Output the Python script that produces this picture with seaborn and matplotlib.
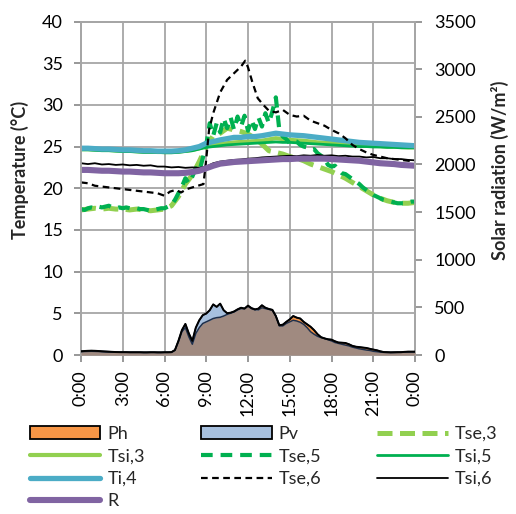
import numpy as np
import pandas as pd
import matplotlib
matplotlib.use("Agg")
import matplotlib.pyplot as plt
import seaborn as sns
from matplotlib.patches import Patch
from matplotlib.lines import Line2D

sns.set_theme(style="white")
plt.rcParams['font.family'] = ['Lato', 'DejaVu Sans']

# ---------------------------------------------------------------- data
# time axes (hours of the day)
hours_half = np.arange(0, 24.01, 0.5)      # half-hourly samples
hours_quarter = np.arange(0, 24.01, 0.25)  # quarter-hourly samples

# solar radiation on the horizontal (Ph) and vertical (Pv) planes, W/m2
ph = [39, 42, 44, 45, 44, 42, 39, 37, 35, 33, 31, 30,
      30, 30, 29, 29, 29, 29, 28, 28, 29, 29, 28, 28,
      29, 29, 30, 52, 139, 244, 287, 191, 113, 226, 287, 331,
      348, 365, 383, 392, 396, 409, 426, 439, 452, 474, 487, 487,
      513, 487, 474, 487, 522, 496, 483, 474, 409, 313, 318, 348,
      374, 409, 392, 383, 348, 322, 296, 261, 218, 187, 174, 165,
      161, 144, 131, 129, 126, 113, 96, 87, 83, 78, 74, 65,
      57, 50, 39, 31, 30, 28, 29, 30, 30, 33, 35, 35,
      35]
pv = [35, 37, 38, 39, 38, 37, 35, 33, 31, 30, 30, 29,
      28, 28, 27, 27, 27, 27, 26, 26, 27, 27, 26, 26,
      27, 27, 28, 50, 148, 261, 326, 226, 148, 287, 365, 418,
      435, 470, 531, 505, 539, 470, 439, 444, 457, 479, 496, 487,
      518, 492, 479, 474, 496, 487, 479, 470, 409, 305, 305, 331,
      348, 365, 357, 344, 322, 287, 244, 218, 196, 183, 174, 161,
      148, 131, 122, 113, 104, 96, 83, 74, 65, 59, 52, 48,
      39, 35, 30, 28, 26, 26, 26, 27, 28, 30, 31, 32,
      32]

# surface and air temperatures, degC (half-hourly)
tse3 = [17.4, 17.5, 17.6, 17.5, 17.6, 17.5, 17.5, 17.4, 17.5, 17.4, 17.3, 17.4,
        17.5, 17.9, 19.0, 20.5, 21.6, 23.2, 25.0, 26.3, 26.6, 27.2, 27.0, 26.8,
        26.5, 26.0, 25.3, 24.5, 24.3, 24.1, 23.8, 23.6, 23.3, 22.9, 22.6, 22.3,
        22.0, 21.6, 21.2, 20.7, 20.2, 19.7, 19.2, 18.8, 18.5, 18.3, 18.2, 18.2,
        18.3]
tsi3 = [24.7, 24.7, 24.65, 24.6, 24.6, 24.55, 24.5, 24.5, 24.45, 24.4, 24.4, 24.35,
        24.35, 24.35, 24.4, 24.5, 24.6, 24.8, 25.1, 25.2, 25.3, 25.4, 25.5, 25.55,
        25.6, 25.65, 25.7, 25.85, 26.0, 25.9, 25.8, 25.75, 25.7, 25.6, 25.5, 25.45,
        25.4, 25.35, 25.3, 25.25, 25.2, 25.15, 25.1, 25.05, 25.0, 25.0, 24.95, 24.9,
        24.9]
tsi5 = [24.6, 24.6, 24.55, 24.5, 24.5, 24.45, 24.4, 24.4, 24.35, 24.3, 24.3, 24.3,
        24.25, 24.25, 24.3, 24.4, 24.5, 24.7, 24.9, 25.0, 25.1, 25.2, 25.25, 25.3,
        25.35, 25.4, 25.45, 25.5, 25.55, 25.5, 25.5, 25.45, 25.4, 25.35, 25.3, 25.25,
        25.2, 25.15, 25.1, 25.05, 25.0, 25.0, 24.95, 24.95, 24.9, 24.9, 24.85, 24.85,
        24.85]
ti4 = [24.8, 24.8, 24.75, 24.7, 24.7, 24.65, 24.6, 24.6, 24.55, 24.5, 24.5, 24.45,
       24.45, 24.45, 24.5, 24.6, 24.8, 25.0, 25.4, 25.6, 25.8, 25.95, 26.1, 26.1,
       26.2, 26.2, 26.3, 26.45, 26.6, 26.5, 26.4, 26.35, 26.3, 26.2, 26.1, 26.0,
       25.9, 25.8, 25.7, 25.6, 25.5, 25.45, 25.4, 25.35, 25.3, 25.25, 25.2, 25.15,
       25.1]
tsi6 = [23.0, 22.9, 23.0, 22.85, 22.9, 22.8, 22.85, 22.75, 22.8, 22.7, 22.75, 22.6,
        22.6, 22.5, 22.55, 22.45, 22.5, 22.45, 22.6, 23.0, 23.2, 23.3, 23.4, 23.45,
        23.55, 23.6, 23.7, 23.75, 23.8, 23.85, 23.9, 23.85, 23.95, 23.9, 24.0, 23.9,
        23.95, 23.85, 23.9, 23.8, 23.8, 23.7, 23.75, 23.6, 23.6, 23.5, 23.5, 23.4,
        23.35]
r_air = [22.2, 22.2, 22.15, 22.1, 22.1, 22.05, 22.0, 22.0, 21.95, 21.9, 21.9, 21.85,
         21.8, 21.8, 21.8, 21.85, 21.95, 22.1, 22.4, 22.7, 22.95, 23.05, 23.15, 23.2,
         23.25, 23.3, 23.35, 23.4, 23.45, 23.5, 23.5, 23.55, 23.55, 23.55, 23.55, 23.55,
         23.5, 23.45, 23.4, 23.35, 23.3, 23.2, 23.1, 23.0, 22.95, 22.9, 22.8, 22.75,
         22.7]

# quarter-hourly external surface temperature, wall 5
tse5 = [17.5, 17.4, 17.6, 17.7, 17.6, 17.8, 17.7, 17.8, 17.9, 17.7, 17.6, 17.7,
        17.6, 17.7, 17.6, 17.5, 17.6, 17.5, 17.5, 17.4, 17.3, 17.4, 17.5, 17.6,
        17.6, 17.8, 18.0, 18.6, 19.4, 20.2, 21.2, 20.6, 21.4, 22.4, 22.0, 23.6,
        25.2, 27.8, 26.3, 27.8, 26.7, 28.4, 27.2, 28.5, 27.0, 28.6, 27.4, 28.7,
        26.9, 28.2, 27.1, 28.5, 27.4, 29.0, 27.8, 29.2, 30.9, 27.0, 26.2, 25.9,
        25.4, 25.7, 25.6, 25.2, 25.0, 24.9, 24.6, 24.7, 24.2, 23.9, 23.5, 22.8,
        22.6, 22.7, 22.2, 21.8, 21.7, 21.4, 21.1, 20.8, 20.5, 20.1, 19.8, 19.5,
        19.2, 19.0, 18.8, 18.6, 18.5, 18.4, 18.3, 18.2, 18.2, 18.2, 18.3, 18.4,
        18.4]

# external surface temperature, wall 6 (irregular sampling)
hours_tse6 = [0, 0.5, 1, 2, 3, 4, 5, 5.5, 6, 6.4, 6.8, 7.2, 7.6, 8.2, 8.8, 9.0,
              9.2, 9.5, 10.0, 10.5, 11.0, 11.5, 11.8, 12.0, 12.3, 12.7, 13.1, 13.5,
              14.0, 14.5, 15.0, 15.5, 16.0, 16.5, 17.0, 17.5, 18.0, 18.5, 19.0, 19.5,
              20.0, 20.5, 21.0, 21.5, 22.0, 23.0, 24.0]
tse6 = [20.7, 20.6, 20.3, 20.1, 19.9, 19.7, 19.5, 19.4, 19.1, 19.6, 19.8, 19.5,
        19.9, 20.2, 20.5, 23.5, 27.0, 29.0, 31.5, 33.0, 33.8, 34.6, 35.3, 34.5,
        32.8, 30.8, 30.0, 29.3, 29.1, 29.4, 28.8, 28.6, 28.7, 28.1, 27.8, 27.5,
        27.0, 26.6, 26.0, 25.2, 24.7, 24.3, 24.0, 23.8, 23.6, 23.4, 23.2]

tick_hours = [0, 3, 6, 9, 12, 15, 18, 21, 24]
tick_labels = ["0:00", "3:00", "6:00", "9:00", "12:00", "15:00", "18:00", "21:00", "0:00"]

# ---------------------------------------------------------------- styles
LIGHT_GREEN = "#92D050"
GREEN = "#00B050"
series = [
    # name, x, y, colour, width, linestyle
    ("Tse,3", hours_half, tse3, LIGHT_GREEN, 3.6, (0, (3.0, 1.5))),
    ("Tsi,3", hours_half, tsi3, LIGHT_GREEN, 3.0, "-"),
    ("Tse,5", hours_quarter, tse5, GREEN, 3.0, (0, (2.8, 1.9))),
    ("Tsi,5", hours_half, tsi5, GREEN, 2.0, "-"),
    ("Ti,4", hours_half, ti4, "#4BACC6", 3.8, "-"),
    ("Tse,6", hours_tse6, tse6, "black", 1.6, (0, (3.0, 2.0))),
    ("Tsi,6", hours_half, tsi6, "black", 1.3, "-"),
    ("R", hours_half, r_air, "#8064A2", 4.4, "-"),
]

fig = plt.figure(figsize=(5.16, 5.14), dpi=100)
ax = fig.add_axes([81 / 516, 1 - 355 / 514, 334 / 516, 333.5 / 514])
ax2 = ax.twinx()

GRID = "#A6A6A6"
TICKC = "#868686"

# ---------------------------------------------------------------- radiation (secondary axis)
ph_arr = np.asarray(ph, dtype=float)
pv_arr = np.asarray(pv, dtype=float)
ax2.fill_between(hours_quarter, 0, ph_arr, color="#F79646", lw=0, zorder=1)
ax2.fill_between(hours_quarter, 0, pv_arr, color="#A7C0DE", lw=0, zorder=2)
ax2.fill_between(hours_quarter, 0, np.minimum(ph_arr, pv_arr), color="#A08A80", lw=0, zorder=3)
rad = pd.DataFrame({"hour": hours_quarter, "Ph": ph_arr, "Pv": pv_arr})
sns.lineplot(data=rad, x="hour", y="Ph", ax=ax2, color="#1F2F4A", lw=1.1, legend=False, zorder=4)
sns.lineplot(data=rad, x="hour", y="Pv", ax=ax2, color="#1F2F4A", lw=1.1, legend=False, zorder=4)
# upper envelope drawn as the dark outline
rad["top"] = np.maximum(ph_arr, pv_arr)
sns.lineplot(data=rad, x="hour", y="top", ax=ax2, color="black", lw=1.4, legend=False, zorder=5)

# ---------------------------------------------------------------- temperatures (primary axis)
for i, (name, xs, ys, col, lw, ls) in enumerate(series):
    df = pd.DataFrame({"hour": xs, "T": ys})
    sns.lineplot(data=df, x="hour", y="T", ax=ax, color=col, lw=lw,
                 linestyle=ls, legend=False, zorder=3 + i)

# ---------------------------------------------------------------- axes
ax.set_xlim(0, 24)
ax.set_ylim(0, 40)
ax2.set_ylim(0, 3500)
ax.set_xticks(tick_hours)
ax.set_xticklabels(tick_labels, rotation=90)
ax.set_yticks(np.arange(0, 41, 5))
ax2.set_yticks(np.arange(0, 3501, 500))

ax.grid(True, color=GRID, lw=1.3)
ax.set_axisbelow(True)
ax2.grid(False)

for a in (ax, ax2):
    for s in a.spines.values():
        s.set_color(GRID)
        s.set_linewidth(1.3)

ax.tick_params(axis="both", which="major", labelsize=13, colors="black",
               length=5, width=1.2, color=TICKC, pad=8, direction="out")
ax.tick_params(axis="x", pad=6, bottom=True)
ax.tick_params(axis="y", left=True)
ax2.tick_params(axis="y", labelsize=13, colors="black", length=5, width=1.2,
                color=TICKC, pad=9, direction="out", right=True)

ax.set_xlabel("")
ax.set_ylabel("Temperature (°C)", fontsize=13, fontweight="bold")
ax2.set_ylabel("Solar radiation (W/m²)", fontsize=13, fontweight="bold", rotation=90)
ax.yaxis.set_label_coords(-0.156, 0.555)
ax2.yaxis.set_label_coords(1.228, 0.555)

# ---------------------------------------------------------------- legend
style = {name: (col, lw, ls) for name, _, _, col, lw, ls in series}

def line_handle(name):
    col, lw, ls = style[name]
    return Line2D([], [], color=col, lw=lw, linestyle=ls, label=name)

ph_handle = Patch(facecolor="#F79646", edgecolor="black", lw=1.3, label="Ph")
pv_handle = Patch(facecolor="#A7C0DE", edgecolor="black", lw=1.3, label="Pv")

# column-wise order so rows read Ph/Pv/Tse,3, Tsi,3/Tse,5/Tsi,5, ...
handles = [ph_handle, line_handle("Tsi,3"), line_handle("Ti,4"), line_handle("R"),
           pv_handle, line_handle("Tse,5"), line_handle("Tse,6"),
           line_handle("Tse,3"), line_handle("Tsi,5"), line_handle("Tsi,6")]
fig.legend(handles=handles, labels=[h.get_label() for h in handles],
           loc="upper left", bbox_to_anchor=(30 / 516, 1 - 426 / 514),
           ncol=3, frameon=False, fontsize=13, handlelength=3.9,
           handletextpad=0.4, columnspacing=3.1, labelspacing=0.36,
           borderaxespad=0, borderpad=0)

fig.savefig("out.png", dpi=100)
